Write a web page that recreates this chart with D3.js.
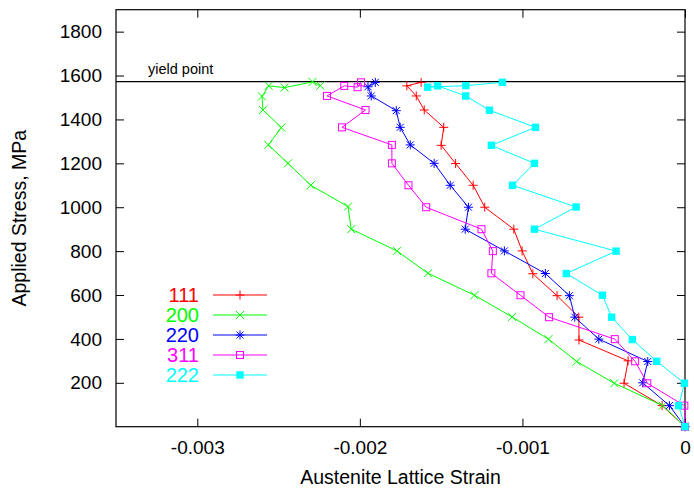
<!DOCTYPE html>
<html><head><meta charset="utf-8">
<script src="https://cdn.jsdelivr.net/npm/d3@7"></script>
<style>
body{margin:0;background:#fff}
svg{display:block}
text{font-family:"Liberation Sans",Arial,Helvetica,sans-serif}
</style>
</head><body>
<svg id="chart" width="694" height="491"></svg>
<script>
// ---- data ----
const seriesNames   = ["111", "200", "220", "311", "222"];
const seriesColors  = ["#ff0000", "#00ff00", "#0000ff", "#ff00ff", "#00ffff"];
const seriesMarkers = ["plus", "cross", "star", "openSquare", "filledSquare"];

const stress111 = [0, 96, 198, 300, 395, 499, 597, 697, 801, 900, 1000, 1100, 1199, 1282, 1364, 1443, 1507, 1553, 1569];
const strain111 = [0, -0.000141, -0.000375, -0.000350, -0.000652, -0.000653, -0.000787, -0.000936, -0.001002, -0.001053, -0.001232, -0.001303, -0.001411, -0.001500, -0.001484, -0.001604, -0.001653, -0.001711, -0.001623];

const stress200 = [0, 96, 198, 297, 399, 500, 599, 699, 801, 900, 1003, 1100, 1200, 1284, 1363, 1443, 1505, 1553, 1545, 1571, 1554];
const strain200 = [0, -0.000137, -0.000435, -0.000666, -0.000840, -0.001063, -0.001295, -0.001581, -0.001772, -0.002053, -0.002073, -0.002302, -0.002442, -0.002563, -0.002483, -0.002596, -0.002602, -0.002561, -0.002463, -0.002291, -0.002243];

const stress220 = [0, 96, 200, 297, 399, 499, 597, 698, 801, 900, 1000, 1100, 1200, 1284, 1364, 1440, 1507, 1549, 1569];
const strain220 = [0, -0.000096, -0.000260, -0.000229, -0.000530, -0.000678, -0.000711, -0.000859, -0.001111, -0.001352, -0.001332, -0.001444, -0.001543, -0.001690, -0.001752, -0.001776, -0.001930, -0.001950, -0.001905];

const stress311 = [0, 96, 198, 298, 399, 499, 599, 699, 800, 900, 1000, 1100, 1200, 1284, 1364, 1443, 1507, 1553, 1547, 1569];
const strain311 = [0, -0.000004, -0.000232, -0.000307, -0.000432, -0.000836, -0.001012, -0.001191, -0.001182, -0.001252, -0.001592, -0.001701, -0.001803, -0.001803, -0.002110, -0.001965, -0.002202, -0.002096, -0.002014, -0.001993];

const stress222 = [0, 96, 198, 298, 397, 499, 599, 698, 800, 900, 1001, 1100, 1200, 1282, 1364, 1442, 1507, 1553, 1547, 1554, 1569];
const strain222 = [0, -0.000039, -0.000004, -0.000174, -0.000324, -0.000451, -0.000508, -0.000730, -0.000424, -0.000926, -0.000670, -0.001061, -0.000926, -0.001191, -0.000920, -0.001203, -0.001349, -0.001522, -0.001583, -0.001348, -0.001123];

const xTicks = [-0.003, -0.002, -0.001, 0];
const xTickLabels = ["-0.003", "-0.002", "-0.001", "0"];
const yTicks = [200, 400, 600, 800, 1000, 1200, 1400, 1600, 1800];
const yTickLabels = ["200", "400", "600", "800", "1000", "1200", "1400", "1600", "1800"];
const yieldStress = 1572;
const yieldLabel = "yield point";
const xTitle = "Austenite Lattice Strain";
const yTitle = "Applied Stress, MPa";

const seriesStress = [stress111, stress200, stress220, stress311, stress222];
const seriesStrain = [strain111, strain200, strain220, strain311, strain222];

// ---- layout ----
const L = 116, R = 685, T = 9.7, B = 426.7;
const x = d3.scaleLinear().domain([-0.0035, 0]).range([L, R]);
const y = d3.scaleLinear().domain([0, 1900]).range([B, T]);

const svg = d3.select("#chart");
const FS = 19;

// axes
const gx = svg.append("g").attr("transform", `translate(0,${B})`)
  .call(d3.axisBottom(x).tickValues(xTicks).tickFormat((d, i) => xTickLabels[i])
    .tickSizeInner(-8).tickSizeOuter(0).tickPadding(14));
const gxt = svg.append("g").attr("transform", `translate(0,${T})`)
  .call(d3.axisTop(x).tickValues(xTicks).tickFormat("").tickSizeInner(-8).tickSizeOuter(0));
const gy = svg.append("g").attr("transform", `translate(${L},0)`)
  .call(d3.axisLeft(y).tickValues(yTicks).tickFormat((d, i) => yTickLabels[i])
    .tickSizeInner(-8).tickSizeOuter(0).tickPadding(14));
const gyr = svg.append("g").attr("transform", `translate(${R},0)`)
  .call(d3.axisRight(y).tickValues(yTicks).tickFormat("").tickSizeInner(-8).tickSizeOuter(0));
[gx, gxt, gy, gyr].forEach(g => {
  g.select(".domain").remove();
  g.selectAll("line").attr("stroke", "#000").attr("stroke-width", 1);
  g.selectAll("text").attr("font-size", FS).attr("fill", "#000")
    .attr("font-family", '"Liberation Sans",Arial,sans-serif');
});

// frame
svg.append("rect").attr("x", L).attr("y", T).attr("width", R - L).attr("height", B - T)
  .attr("fill", "none").attr("stroke", "#000").attr("stroke-width", 1.2);

// yield line
svg.append("line").attr("x1", L).attr("x2", R).attr("y1", y(yieldStress)).attr("y2", y(yieldStress))
  .attr("stroke", "#000").attr("stroke-width", 1.3);
svg.append("text").attr("x", 148).attr("y", y(yieldStress) - 7.5).attr("font-size", 14.5)
  .attr("fill", "#000").text(yieldLabel);

// titles
svg.append("text").attr("x", (L + R) / 2).attr("y", 484).attr("text-anchor", "middle")
  .attr("font-size", 19.5).attr("fill", "#000").text(xTitle);
svg.append("text").attr("transform", `translate(26,${(T + B) / 2}) rotate(-90)`)
  .attr("text-anchor", "middle").attr("font-size", 19.5).attr("fill", "#000").text(yTitle);

// markers
function drawMarker(g, type, cx, cy, color) {
  const s = 4.5;
  if (type === "plus" || type === "star") {
    g.append("path").attr("d", `M${cx - s},${cy}H${cx + s}M${cx},${cy - s}V${cy + s}`)
      .attr("stroke", color).attr("stroke-width", 1).attr("fill", "none");
  }
  if (type === "cross" || type === "star") {
    const c = type === "star" ? 3.5 : 4;
    g.append("path").attr("d", `M${cx - c},${cy - c}L${cx + c},${cy + c}M${cx - c},${cy + c}L${cx + c},${cy - c}`)
      .attr("stroke", color).attr("stroke-width", 1).attr("fill", "none");
  }
  if (type === "openSquare") {
    g.append("rect").attr("x", cx - 3.5).attr("y", cy - 3.5).attr("width", 7).attr("height", 7)
      .attr("fill", "none").attr("stroke", color).attr("stroke-width", 1);
  }
  if (type === "filledSquare") {
    g.append("rect").attr("x", cx - 3.7).attr("y", cy - 3.7).attr("width", 7.4).attr("height", 7.4)
      .attr("fill", color);
  }
}

const line = d3.line().x(d => x(d[0])).y(d => y(d[1]));

seriesNames.forEach((name, i) => {
  const pts = seriesStrain[i].map((s, j) => [s, seriesStress[i][j]]);
  const g = svg.append("g");
  g.append("path").datum(pts).attr("d", line).attr("fill", "none")
    .attr("stroke", seriesColors[i]).attr("stroke-width", 1);
  pts.forEach(p => drawMarker(g, seriesMarkers[i], x(p[0]), y(p[1]), seriesColors[i]));
});

// legend
seriesNames.forEach((name, i) => {
  const ry = 295 + i * 20;
  svg.append("text").attr("x", 199).attr("y", ry + 7).attr("text-anchor", "end")
    .attr("font-size", 20).attr("fill", seriesColors[i]).text(name);
  svg.append("line").attr("x1", 213).attr("x2", 267).attr("y1", ry).attr("y2", ry)
    .attr("stroke", seriesColors[i]).attr("stroke-width", 1);
  drawMarker(svg, seriesMarkers[i], 240, ry, seriesColors[i]);
});
</script>
</body></html>
